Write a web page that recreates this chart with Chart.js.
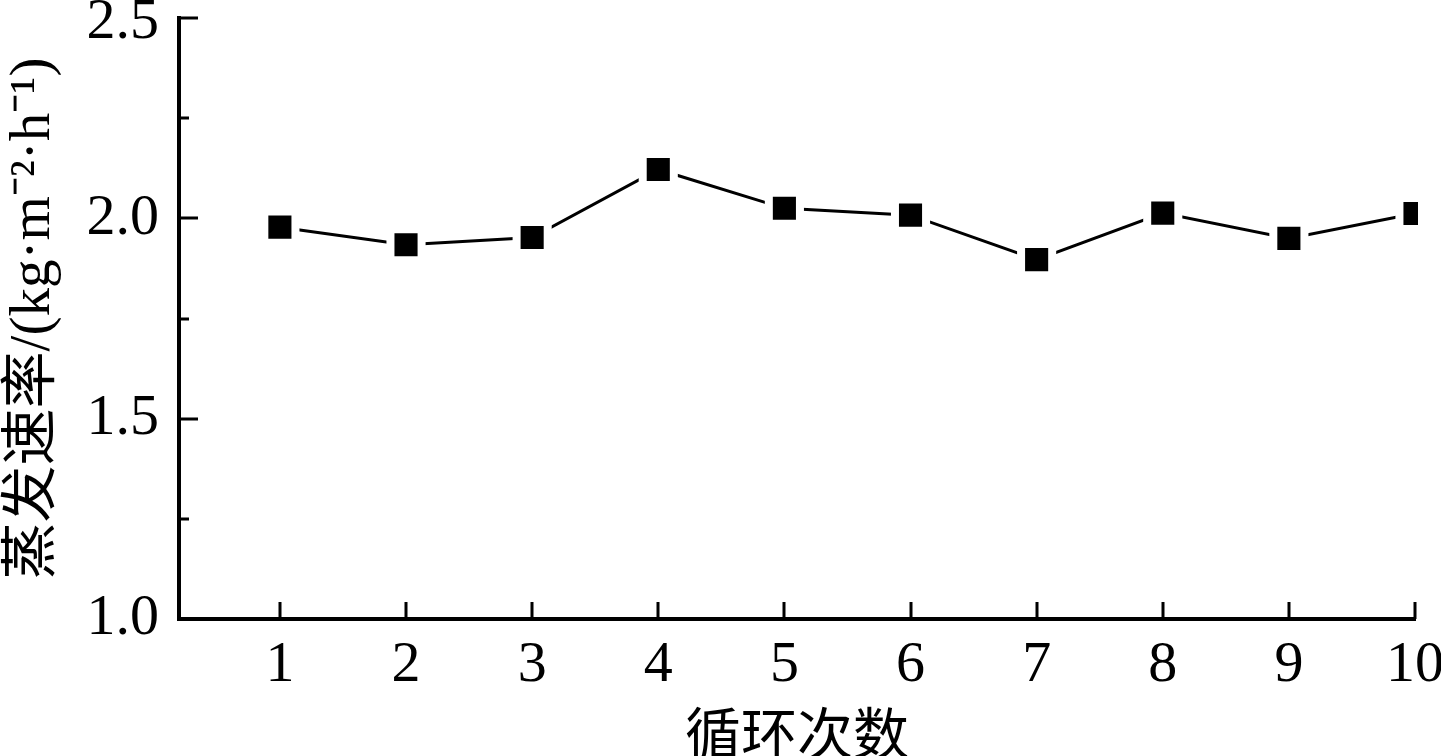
<!DOCTYPE html>
<html>
<head>
<meta charset="utf-8">
<script src="https://cdn.jsdelivr.net/npm/chart.js@4/dist/chart.umd.min.js"></script>
<style>
  html, body { margin: 0; padding: 0; background: #fff; }
  #wrap { width: 1441px; height: 756px; }
</style>
</head>
<body>
<div id="wrap"><canvas id="rateChart"></canvas></div>
<script>
  const cycles = [1, 2, 3, 4, 5, 6, 7, 8, 9, 10];
  const rates = [1.978, 1.934, 1.952, 2.122, 2.025, 2.008, 1.897, 2.013, 1.95, 2.012];
  const xTicks = [1, 2, 3, 4, 5, 6, 7, 8, 9, 10];
  const yMajor = [1.0, 1.5, 2.0, 2.5];
  const yMinor = [1.25, 1.75, 2.25];
  const xTitle = '循环次数';
  const yTitle = '蒸发速率/(kg·m⁻²·h⁻¹)';

  const serif = "'Liberation Serif', 'Times New Roman', 'Noto Sans CJK SC', serif";

  // ticks pointing into the plot, drawn from the scales
  const innerTicks = {
    id: 'innerTicks',
    beforeDraw(chart) {
      // top label would be cut by the canvas edge, push it down a bit
      const items = chart.scales.y.getLabelItems();
      items.forEach((it) => {
        if (it.label === '2.5' && !it._moved) {
          it.options.translation[1] += 5;
          it._moved = true;
        }
      });
    },
    afterDatasetsDraw(chart) {
      const { ctx, chartArea, scales } = chart;
      ctx.save();
      ctx.strokeStyle = '#000';
      ctx.lineWidth = 3;
      ctx.beginPath();
      xTicks.forEach((v) => {
        const px = Math.round(scales.x.getPixelForValue(v));
        ctx.moveTo(px, chartArea.bottom);
        ctx.lineTo(px, chartArea.bottom - 17);
      });
      yMajor.forEach((v) => {
        const py = Math.round(scales.y.getPixelForValue(v));
        ctx.moveTo(chartArea.left, py);
        ctx.lineTo(chartArea.left + 19, py);
      });
      yMinor.forEach((v) => {
        const py = Math.round(scales.y.getPixelForValue(v));
        ctx.moveTo(chartArea.left, py);
        ctx.lineTo(chartArea.left + 10, py);
      });
      ctx.stroke();
      ctx.restore();
    }
  };

  new Chart(document.getElementById('rateChart'), {
    type: 'line',
    data: {
      datasets: [{
        data: cycles.map((c, i) => ({ x: c, y: rates[i] })),
        borderColor: '#000',
        borderWidth: 3,
        pointStyle: 'rect',
        pointRadius: 22,
        pointBackgroundColor: '#000',
        pointBorderColor: '#fff',
        pointBorderWidth: 8,
        tension: 0,
        clip: { left: false, top: false, right: 3, bottom: false }
      }]
    },
    options: {
      responsive: true,
      maintainAspectRatio: false,
      animation: false,
      layout: { autoPadding: false, padding: { top: 18, right: 26, left: 0, bottom: 0 } },
      plugins: { legend: { display: false }, tooltip: { enabled: false } },
      scales: {
        x: {
          type: 'linear',
          min: 0.2,
          max: 10,
          afterBuildTicks: (s) => { s.ticks = xTicks.map((v) => ({ value: v })); },
          afterFit: (s) => { s.height = 137; s.paddingLeft = 0; s.paddingRight = 0; },
          grid: { display: true, drawOnChartArea: false, drawTicks: false },
          border: { color: '#000', width: 4 },
          ticks: {
            color: '#000',
            padding: 12,
            maxRotation: 0,
            font: { family: serif, size: 58 },
            callback: (v) => String(v)
          },
          title: {
            display: true,
            text: xTitle,
            color: '#000',
            padding: { top: 0, bottom: -10 },
            font: { family: "'Noto Sans CJK SC', sans-serif", size: 56 }
          }
        },
        y: {
          min: 1.0,
          max: 2.5,
          afterBuildTicks: (s) => {
            s.ticks = yMajor.concat(yMinor).sort((a, b) => a - b).map((v) => ({ value: v }));
          },
          afterFit: (s) => { s.width = 179; s.paddingTop = 0; s.paddingBottom = 0; },
          grid: { display: true, drawOnChartArea: false, drawTicks: false },
          border: { color: '#000', width: 4 },
          ticks: {
            color: '#000',
            padding: 20,
            font: { family: serif, size: 58 },
            callback: (v) => (yMajor.includes(v) ? v.toFixed(1) : '')
          },
          title: {
            display: true,
            text: yTitle,
            color: '#000',
            padding: { top: 0, bottom: 0 },
            font: { family: serif, size: 57 }
          }
        }
      }
    },
    plugins: [innerTicks]
  });
</script>
</body>
</html>
